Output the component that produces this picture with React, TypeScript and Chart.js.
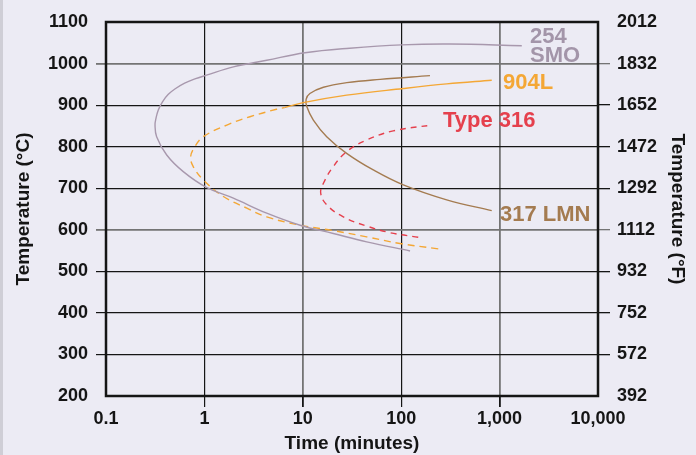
import React, { useEffect, useRef } from "react";
import { Chart, registerables } from "chart.js";

Chart.register(...registerables);

// ---- tick values / labels ----
const xTickValues = [0.1, 1, 10, 100, 1000, 10000];
const xTickLabels = ["0.1", "1", "10", "100", "1,000", "10,000"];
const cTickValues = [200, 300, 400, 500, 600, 700, 800, 900, 1000, 1100];
const fTickLabels = ["392", "572", "752", "932", "1112", "1292", "1472", "1652", "1832", "2012"];

// ---- series: time (minutes) and temperature (°C) ----
const smoTime = [123, 44.6, 20.4, 9.4, 4.3, 1.97, 1.05, 0.61, 0.414, 0.327, 0.315, 0.322, 0.34, 0.375, 0.43, 0.51, 0.63, 0.8, 1.05, 1.97, 4.3, 10.5, 30, 101, 313, 1680];
const smoTemp = [549, 571, 591, 611, 640, 676, 702, 740, 780, 824, 852, 868, 888, 908, 926, 940, 953, 963, 972, 992, 1008, 1026, 1037, 1045, 1047, 1043];

const l904Time = [238, 97, 44.6, 20.4, 9.4, 4.3, 2.7, 1.56, 0.975, 0.77, 0.725, 0.8, 0.975, 1.69, 2.9, 5.4, 6.5, 10.1, 27.9, 105, 290, 832];
const l904Temp = [554, 567, 583, 598, 611, 631, 652, 680, 720, 752, 776, 800, 824, 852, 872, 890, 894, 906, 924, 940, 951, 960];
const l904SolidFrom = 16; // index where the 904L curve turns from dashed to solid

const t316Time = [149, 77, 44.6, 25.8, 17.5, 15.2, 16.2, 20.4, 27.9, 44.6, 83, 204];
const t316Temp = [582, 593, 609, 631, 660, 688, 712, 752, 788, 816, 838, 852];

const lmnTime = [196, 61, 28, 16.2, 11.8, 10.8, 11, 12.8, 17.5, 27.9, 52, 105, 290, 832];
const lmnTemp = [971, 962, 954, 943, 928, 914, 896, 864, 824, 784, 744, 708, 672, 646];

// curve name labels, anchored in data coordinates (minutes, °C)
const curveLabels = [
  { text: "254", x: 2040, y: 1064, color: "#a395a9" },
  { text: "SMO", x: 2040, y: 1018, color: "#a395a9" },
  { text: "904L", x: 1084, y: 953, color: "#f4a735" },
  { text: "Type 316", x: 266, y: 862, color: "#e5404d" },
  { text: "317 LMN", x: 1009, y: 635, color: "#a47b50" },
];

const toPts = (xs: number[], ys: number[]) => xs.map((x, i) => ({ x, y: ys[i] }));

const FONT = '"Liberation Sans", Arial, Helvetica, sans-serif';
const BLACK = "#151515";
const GRAY = "#747474";

const overlayPlugin = {
  id: "overlay",
  afterDatasetsDraw(chart: any) {
    const { ctx, chartArea: a, scales } = chart;
    ctx.save();
    ctx.strokeStyle = BLACK;
    ctx.lineWidth = 2.5;
    ctx.strokeRect(a.left, a.top, a.right - a.left, a.bottom - a.top);
    ctx.font = `bold 22px ${FONT}`;
    ctx.textBaseline = "middle";
    ctx.textAlign = "left";
    for (const l of curveLabels) {
      ctx.fillStyle = l.color;
      ctx.fillText(l.text, scales.x.getPixelForValue(l.x), scales.y.getPixelForValue(l.y));
    }
    ctx.restore();
  },
};

export default function App() {
  const ref = useRef<HTMLCanvasElement | null>(null);

  useEffect(() => {
    if (!ref.current) return;
    const tickFont = { family: FONT, size: 18, weight: "bold" as const };
    const titleFont = { family: FONT, size: 19, weight: "bold" as const };
    const lineCommon = {
      showLine: true,
      pointRadius: 0,
      borderWidth: 1.4,
      tension: 0.4,
      fill: false,
    };
    const chart = new Chart(ref.current, {
      type: "scatter",
      data: {
        datasets: [
          { ...lineCommon, label: "254 SMO", data: toPts(smoTime, smoTemp), borderColor: "#a898ad" },
          {
            ...lineCommon,
            label: "904L",
            data: toPts(l904Time, l904Temp),
            borderColor: "#f4a735",
            segment: {
              borderDash: (c: any) => (c.p0DataIndex >= l904SolidFrom ? [] : [7, 5]),
            },
          },
          { ...lineCommon, label: "Type 316", data: toPts(t316Time, t316Temp), borderColor: "#e5404d", borderDash: [6, 5] },
          { ...lineCommon, label: "317 LMN", data: toPts(lmnTime, lmnTemp), borderColor: "#a47b50" },
        ],
      },
      options: {
        responsive: false,
        animation: false,
        devicePixelRatio: 1,
        layout: { padding: { top: 22, left: 0, right: 0, bottom: 0 } },
        plugins: { legend: { display: false }, tooltip: { enabled: false } },
        scales: {
          x: {
            type: "logarithmic",
            position: "bottom",
            min: 0.1,
            max: 10000,
            afterBuildTicks: (s: any) => {
              s.ticks = xTickValues.map((v) => ({ value: v }));
            },
            afterFit: (s: any) => {
              s.height = 59;
            },
            ticks: {
              callback: (_v: any, i: number) => xTickLabels[i],
              font: tickFont,
              color: BLACK,
              padding: 1,
              maxRotation: 0,
              autoSkip: false,
            },
            grid: {
              color: (c: any) => (c.tick && (c.tick.value === 10 || c.tick.value === 1000) ? GRAY : BLACK),
              lineWidth: (c: any) => (c.tick && (c.tick.value === 10 || c.tick.value === 1000) ? 1.8 : 1.2),
              tickColor: (c: any) =>
                c.tick && (c.tick.value === 0.1 || c.tick.value === 10000) ? "rgba(0,0,0,0)" : BLACK,
              tickLength: 11,
            },
            border: { display: false },
            title: { display: true, text: "Time (minutes)", font: titleFont, color: BLACK, padding: { top: 0, bottom: 0 } },
          },
          y: {
            type: "linear",
            position: "left",
            min: 200,
            max: 1100,
            afterBuildTicks: (s: any) => {
              s.ticks = cTickValues.map((v) => ({ value: v }));
            },
            afterFit: (s: any) => {
              s.width = 106;
            },
            ticks: { callback: (v: any) => String(v), font: tickFont, color: BLACK, padding: 8 },
            grid: {
              color: (c: any) => (c.tick && (c.tick.value === 1000 || c.tick.value === 600) ? GRAY : BLACK),
              lineWidth: (c: any) => (c.tick && (c.tick.value === 1000 || c.tick.value === 600) ? 1.8 : 1.2),
              tickColor: (c: any) =>
                c.tick && (c.tick.value === 200 || c.tick.value === 1100)
                  ? "rgba(0,0,0,0)"
                  : c.tick && (c.tick.value === 1000 || c.tick.value === 600)
                  ? GRAY
                  : BLACK,
              tickLength: 10,
            },
            border: { display: false },
            title: { display: true, text: "Temperature (°C)", font: titleFont, color: BLACK, padding: { top: 12, bottom: 0 } },
          },
          y2: {
            type: "linear",
            position: "right",
            min: 392,
            max: 2012,
            afterBuildTicks: (s: any) => {
              s.ticks = fTickLabels.map((v) => ({ value: Number(v) }));
            },
            afterFit: (s: any) => {
              s.width = 98;
            },
            ticks: { callback: (v: any) => String(v), font: tickFont, color: BLACK, padding: 7 },
            grid: {
              drawOnChartArea: false,
              tickColor: (c: any) =>
                c.tick && (c.tick.value === 392 || c.tick.value === 2012)
                  ? "rgba(0,0,0,0)"
                  : c.tick && (c.tick.value === 1832 || c.tick.value === 1112)
                  ? GRAY
                  : BLACK,
              lineWidth: 1.3,
              tickLength: 12,
            },
            border: { display: false },
            title: { display: true, text: "Temperature (°F)", font: titleFont, color: BLACK, padding: { top: 7, bottom: 0 } },
          },
        },
      },
      plugins: [overlayPlugin],
    } as any);
    return () => chart.destroy();
  }, []);

  return (
    <div
      style={{
        position: "fixed",
        left: 0,
        top: 0,
        width: 696,
        height: 455,
        background: "#ecebf4",
        overflow: "hidden",
      }}
    >
      <div style={{ position: "absolute", left: 0, top: 0, width: 3, height: 455, background: "#cfced6" }} />
      <canvas ref={ref} width={696} height={455} style={{ position: "absolute", left: 0, top: 0, width: 696, height: 455 }} />
    </div>
  );
}
